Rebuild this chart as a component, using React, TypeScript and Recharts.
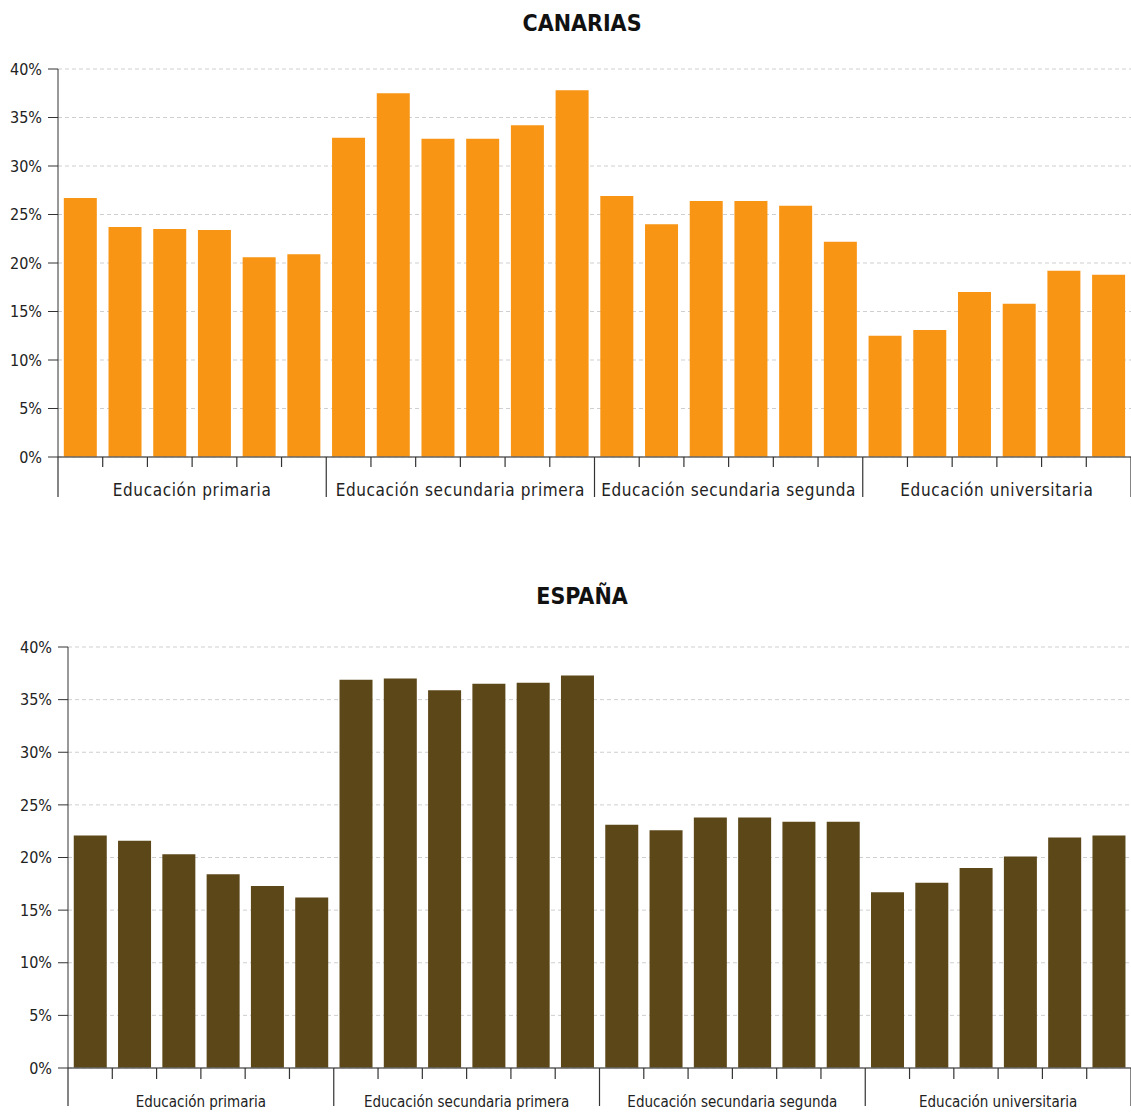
import { BarChart, Bar, XAxis, YAxis, CartesianGrid } from 'recharts';

const groups = [
  'Educación primaria',
  'Educación secundaria primera',
  'Educación secundaria segunda',
  'Educación universitaria',
];

const canarias = [
  26.7, 23.7, 23.5, 23.4, 20.6, 20.9,
  32.9, 37.5, 32.8, 32.8, 34.2, 37.8,
  26.9, 24.0, 26.4, 26.4, 25.9, 22.2,
  12.5, 13.1, 17.0, 15.8, 19.2, 18.8,
];

const espana = [
  22.1, 21.6, 20.3, 18.4, 17.3, 16.2,
  36.9, 37.0, 35.9, 36.5, 36.6, 37.3,
  23.1, 22.6, 23.8, 23.8, 23.4, 23.4,
  16.7, 17.6, 19.0, 20.1, 21.9, 22.1,
];

const yTicks = [0, 5, 10, 15, 20, 25, 30, 35, 40];
const edgeTicks = Array.from({ length: 25 }, (_, i) => i);

const FONT = "'DejaVu Sans Condensed', 'DejaVu Sans', sans-serif";

const toRows = (values: number[]) =>
  values.map((v, i) => ({
    name: `${groups[Math.floor(i / 6)]} ${(i % 6) + 1}`,
    pos: i + 0.5,
    value: v,
  }));

// tick at every category boundary, long separators between groups, group name centred
const EdgeTick = ({ x, y, payload, shortLen, longLen, labelOffset, fontSize, spacing }: any) => {
  const v = payload.value;
  const isGroupEdge = v % 6 === 0;
  return (
    <g>
      <line x1={x} y1={y} x2={x} y2={y + (isGroupEdge ? longLen : shortLen)} stroke="#333" strokeWidth={1.2} />
      {v % 6 === 3 && (
        <text x={x} y={y + labelOffset} textAnchor="middle" fontSize={fontSize} fill="#222"
          fontFamily={FONT} letterSpacing={spacing}>
          {groups[(v - 3) / 6]}
        </text>
      )}
    </g>
  );
};

function Panel({ data, color, yWidth, top, height, xHeight, tick }: any) {
  return (
    <BarChart width={1131} height={height} data={data}
      margin={{ top, right: 0, bottom: 0, left: 0 }} barCategoryGap="13%">
      <CartesianGrid vertical={false} stroke="#cfcfcf" strokeDasharray="4 3" />
      <XAxis xAxisId="cat" dataKey="name" hide height={0} />
      <XAxis xAxisId="edge" dataKey="pos" type="number" domain={[0, 24]} ticks={edgeTicks}
        interval={0} height={xHeight} tickLine={false} tickSize={0} tickMargin={0}
        axisLine={{ stroke: '#666', strokeWidth: 1.5 }}
        tick={<EdgeTick {...tick} />} />
      <YAxis domain={[0, 40]} ticks={yTicks} width={yWidth} tickSize={10} tickMargin={6}
        tickFormatter={(v: number) => `${v}%`}
        axisLine={{ stroke: '#333' }} tickLine={{ stroke: '#333' }}
        tick={{ fontSize: 16, fill: '#222', fontFamily: FONT }} />
      <Bar xAxisId="cat" dataKey="value" fill={color} isAnimationActive={false} />
    </BarChart>
  );
}

export default function App() {
  const titleStyle: any = {
    position: 'absolute', left: 582, transform: 'translateX(-50%)',
    fontFamily: FONT, fontWeight: 'bold', fontSize: 23, lineHeight: 1, color: '#111',
  };
  return (
    <div style={{ position: 'absolute', left: 0, top: 0, width: 1131, height: 1112, background: '#fff', fontFamily: FONT }}>
      <div style={{ ...titleStyle, top: 12 }}>CANARIAS</div>
      <div style={{ position: 'absolute', left: 0, top: 0 }}>
        <Panel data={toRows(canarias)} color="#F89514" yWidth={58} top={69} height={510} xHeight={53}
          tick={{ shortLen: 10, longLen: 40, labelOffset: 39, fontSize: 17, spacing: 0.6 }} />
      </div>
      <div style={{ ...titleStyle, top: 585 }}>ESPAÑA</div>
      <div style={{ position: 'absolute', left: 0, top: 580 }}>
        <Panel data={toRows(espana)} color="#5C4718" yWidth={68} top={67} height={532} xHeight={44}
          tick={{ shortLen: 11, longLen: 38, labelOffset: 39, fontSize: 15, spacing: 0 }} />
      </div>
    </div>
  );
}
